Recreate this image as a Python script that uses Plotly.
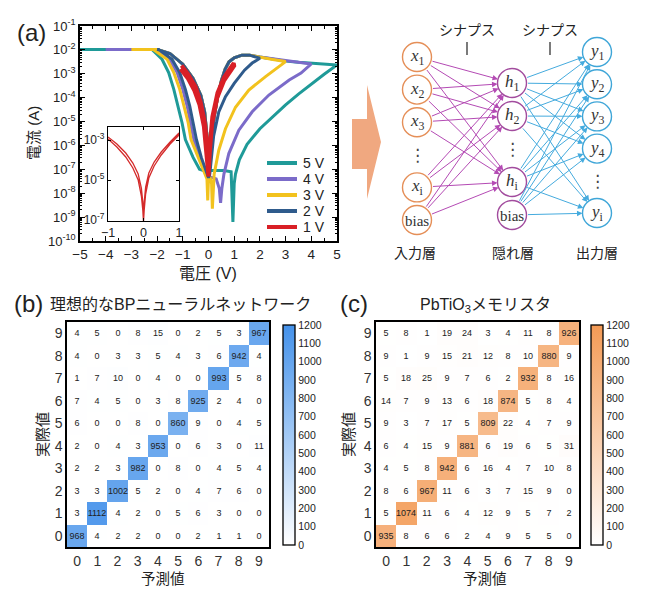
import plotly.graph_objects as go

W, H = 650, 592
def X(px): return px / W
def Y(py): return 1 - py / H

SANS = "Liberation Sans, Arial, Noto Sans CJK JP, sans-serif"
CJK = "Liberation Sans, Noto Sans CJK JP, sans-serif"
SERIF = "Liberation Serif, Times New Roman, serif"
INK = "#222222"

# ---------------- (a) I-V sweeps: voltage (V), log10 current (A) ----------------
sweep_names = ["5 V", "4 V", "3 V", "2 V", "1 V"]
sweep_colors = ["#1F9A98", "#7B6BC9", "#F2C21D", "#2F5B8C", "#D91F26"]
sweep_vmax = [5, 4, 3, 2, 1]

v5_low = [-5, -2.2, -1.81, -1.55, -1.35, -1.18, -1.03, -0.9, -0.6, -0.35, -0.2, 0.2, 0.6, 0.88, 0.95, 1.0,
          1.05, 1.2, 1.5, 2.0, 2.5, 3.0, 3.5, 4.0, 4.5, 5.0]
log5_low = [-1.98, -1.98, -2.39, -2.95, -3.65, -4.35, -5.05, -5.75, -6.5, -7.0, -7.05, -7.05, -7.05, -7.1, -9.2, -7.6,
            -7.2, -6.6, -5.95, -5.3, -4.8, -4.3, -3.85, -3.42, -3.02, -2.63]

v4_low = [-4, -2.1, -1.51, -1.22, -1.0, -0.83, -0.70, -0.57, -0.35, -0.15, 0.0, 0.3, 0.42, 0.47, 0.52, 0.6,
          0.79, 1.18, 1.7, 2.35, 3.14, 3.6, 4.0]
log4_low = [-1.98, -1.98, -2.39, -2.95, -3.65, -4.35, -5.05, -5.75, -6.5, -7.1, -7.3, -7.4, -7.8, -8.4, -7.8, -7.2,
            -6.34, -5.36, -4.59, -3.89, -3.26, -2.97, -2.59]

v3_low = [-3, -2.15, -1.61, -1.35, -1.12, -0.94, -0.79, -0.68, -0.4, -0.15, -0.06, -0.03, 0.0, 0.05, 0.12, 0.15,
          0.18, 0.22, 0.4, 0.66, 1.05, 1.57, 2.22, 3.0]
log3_low = [-1.98, -1.98, -2.39, -2.95, -3.65, -4.35, -5.05, -5.75, -6.5, -7.1, -7.4, -8.3, -7.4, -7.3, -7.6, -8.65,
            -7.6, -7.2, -6.2, -5.3, -4.4, -3.68, -3.12, -2.49]

v2_low = [-2.0, -1.94, -1.42, -1.12, -0.90, -0.73, -0.60, -0.47, -0.28, -0.1, 0.0, 0.05, 0.2, 0.4, 0.66, 1.0,
          1.4, 1.7, 2.0]
log2_low = [-1.98, -1.98, -2.39, -2.95, -3.65, -4.35, -5.05, -5.75, -6.5, -7.1, -7.35, -7.2, -5.6, -4.6, -3.96, -3.4,
            -2.85, -2.55, -2.35]

# shared return branch (Vmax -> 0)
high_v = [5.0, 4.5, 4.0, 3.5, 3.0, 2.5, 2.0, 1.6, 1.3, 1.0, 0.8, 0.65, 0.5, 0.35, 0.22, 0.12, 0.05, 0.02, 0.0]
high_log = [-2.63, -2.6, -2.56, -2.52, -2.47, -2.4, -2.3, -2.22, -2.22, -2.33, -2.5, -2.8, -3.3, -4.0, -4.8, -5.6,
            -6.5, -7.2, -7.35]
# negative-side return branch (0 -> -2 V)
inner_v = [0.0, -0.06, -0.15, -0.3, -0.6, -1.0, -1.5, -2.0]
inner_log = [-7.35, -5.6, -4.6, -3.9, -3.2, -2.6, -2.15, -1.98]

v1_loop = [-1.09, -0.8, -0.55, -0.35, -0.18, -0.08, 0.0, 0.05, 0.14, 0.34, 0.6, 1.0,
           0.98, 0.6, 0.35, 0.15, 0.05, 0.0, -0.05, -0.15, -0.3, -0.5, -0.8, -1.05]
log1_loop = [-2.8, -3.2, -3.7, -4.3, -5.2, -6.2, -7.3, -6.3, -5.1, -4.0, -3.3, -2.67,
             -2.55, -3.15, -3.8, -4.8, -6.0, -7.3, -6.0, -5.0, -4.2, -3.55, -3.0, -2.65]

inset_v = [-1, -0.75, -0.5, -0.3, -0.15, -0.06, -0.02, 0, 0.02, 0.06, 0.15, 0.3, 0.5, 0.75, 1,
           1, 0.75, 0.5, 0.3, 0.15, 0.06, 0.02, 0, -0.02, -0.06, -0.15, -0.3, -0.5, -0.75, -1]
inset_log = [-2.95, -3.35, -3.85, -4.4, -5.0, -5.8, -6.5, -7.1, -6.5, -5.7, -4.9, -4.3, -3.75, -3.2, -2.75,
             -2.65, -3.1, -3.6, -4.1, -4.65, -5.35, -6.1, -7.1, -6.1, -5.4, -4.7, -4.15, -3.65, -3.2, -2.85]

main_decades = list(range(-10, 0))
inset_decades = [-7, -5, -3]
x_ticks_a = list(range(-5, 6))

# ---------------- (b), (c) confusion matrices (rows: actual 0..9, cols: predicted 0..9) ----------------
digits = list(range(10))
cm_ideal = [
    [968, 4, 2, 2, 0, 0, 2, 1, 1, 0],
    [3, 1112, 4, 2, 0, 5, 6, 3, 0, 0],
    [3, 3, 1002, 5, 2, 0, 4, 7, 6, 0],
    [2, 2, 3, 982, 0, 8, 0, 4, 5, 4],
    [2, 0, 4, 3, 953, 0, 6, 3, 0, 11],
    [6, 0, 0, 8, 0, 860, 9, 0, 4, 5],
    [7, 4, 5, 0, 3, 8, 925, 2, 4, 0],
    [1, 7, 10, 0, 4, 0, 0, 993, 5, 8],
    [4, 0, 3, 3, 5, 4, 3, 6, 942, 4],
    [4, 5, 0, 8, 15, 0, 2, 5, 3, 967],
]
cm_memristor = [
    [935, 8, 6, 6, 2, 4, 9, 5, 5, 0],
    [5, 1074, 11, 6, 4, 12, 9, 5, 7, 2],
    [8, 6, 967, 11, 6, 3, 7, 15, 9, 0],
    [4, 5, 8, 942, 6, 16, 4, 7, 10, 8],
    [6, 4, 15, 9, 881, 6, 19, 6, 5, 31],
    [9, 3, 7, 17, 5, 809, 22, 4, 7, 9],
    [14, 7, 9, 13, 6, 18, 874, 5, 8, 4],
    [5, 18, 25, 9, 7, 6, 2, 932, 8, 16],
    [9, 1, 9, 15, 21, 12, 8, 10, 880, 9],
    [5, 8, 1, 19, 24, 3, 4, 11, 8, 926],
]
cbar_ticks = list(range(0, 1201, 100))

# ---------------- neural network diagram labels ----------------
input_nodes = ["x1", "x2", "x3", "⋮", "xi", "bias"]
hidden_nodes = ["h1", "h2", "⋮", "hi", "bias"]
output_nodes = ["y1", "y2", "y3", "y4", "⋮", "yi"]

# =====================================================================
fig = go.Figure()

lows = [(v5_low, log5_low), (v4_low, log4_low), (v3_low, log3_low), (v2_low, log2_low)]
for i, name in enumerate(sweep_names):
    vmax = sweep_vmax[i]
    if i < 4:
        lv, ll = lows[i]
        hv = [v for v in high_v if v < vmax]
        hl = [l for v, l in zip(high_v, high_log) if v < vmax]
        vv = lv + hv + inner_v[1:] + [-vmax]
        ll2 = ll + hl + inner_log[1:] + [-1.98]
        width = 3
    else:
        vv, ll2 = v1_loop, log1_loop
        width = 4
    fig.add_trace(go.Scatter(x=vv, y=[10 ** e for e in ll2], mode="lines", name=name, showlegend=False,
                             line=dict(color=sweep_colors[i], width=width), xaxis="x", yaxis="y"))

fig.add_trace(go.Scatter(x=inset_v, y=[10 ** e for e in inset_log], mode="lines", showlegend=False,
                         line=dict(color="#D42A2A", width=1.3), xaxis="x2", yaxis="y2"))

blue_scale = [[0, "#FFFFFF"], [1, "#4592EA"]]
orange_scale = [[0, "#FFFFFF"], [1, "#F39A55"]]

def cbar(px_left):
    return dict(x=X(px_left), xanchor="left", y=Y(435), yanchor="middle", len=220 / H, lenmode="fraction",
                thickness=12, outlinewidth=1.3, outlinecolor="black", xpad=0, ypad=0,
                tickvals=cbar_ticks, ticks="", tickfont=dict(size=10.5, family=SANS, color=INK))

fig.add_trace(go.Heatmap(z=cm_ideal, x=digits, y=digits, xaxis="x3", yaxis="y3", zmin=0, zmax=1200,
                         colorscale=blue_scale, texttemplate="%{z}", textfont=dict(size=9, family=SANS, color=INK),
                         colorbar=cbar(283), hoverinfo="skip"))
fig.add_trace(go.Heatmap(z=cm_memristor, x=digits, y=digits, xaxis="x4", yaxis="y4", zmin=0, zmax=1200,
                         colorscale=orange_scale, texttemplate="%{z}", textfont=dict(size=9, family=SANS, color=INK),
                         colorbar=cbar(591), hoverinfo="skip"))

frame = dict(showline=True, linecolor="black", linewidth=1.5, mirror=True, showgrid=False, zeroline=False,
             automargin=False)
hm_font = dict(size=14, color="#333")

fig.update_layout(
    width=W, height=H, autosize=False, margin=dict(l=0, r=0, t=0, b=0, pad=0, autoexpand=False),
    paper_bgcolor="white", plot_bgcolor="rgba(0,0,0,0)", showlegend=False,
    font=dict(family=SANS, color=INK),
    xaxis=dict(domain=[X(80), X(337)], anchor="y", range=[-5, 5], tickvals=x_ticks_a, ticks="inside",
               ticklen=5, tickwidth=1.2, tickcolor="black",
               minor=dict(ticks="inside", ticklen=3, dtick=0.5, tickcolor="black"),
               tickfont=dict(size=13.5, color=INK), **{**frame, "mirror": "allticks"}),
    yaxis=dict(domain=[Y(241), Y(26)], anchor="x", type="log", range=[-10, -1],
               tickvals=[10 ** e for e in main_decades], ticktext=[f"10<sup>{e}</sup>" for e in main_decades],
               ticks="inside", ticklen=5, tickwidth=1.2, tickcolor="black",
               minor=dict(ticks="inside", ticklen=2.5, tickcolor="black",
                          tickvals=[k * 10 ** e for e in range(-10, -1) for k in range(2, 10)]),
               tickfont=dict(size=13, color=INK), **{**frame, "mirror": "allticks"}),
    xaxis2=dict(domain=[X(108), X(179)], anchor="y2", range=[-1, 1], tickvals=[-1, 0, 1], ticks="inside",
                ticklen=3, tickcolor="black", tickfont=dict(size=12.5, color=INK),
                **{**frame, "mirror": "allticks", "linewidth": 1.2}),
    yaxis2=dict(domain=[Y(221), Y(127)], anchor="x2", type="log", range=[-7.05, -2.35],
                tickvals=[10 ** e for e in inset_decades], ticktext=[f"10<sup>{e}</sup>" for e in inset_decades],
                ticks="inside", ticklen=3, tickcolor="black", tickfont=dict(size=12, color=INK),
                **{**frame, "mirror": "allticks", "linewidth": 1.2}),
    xaxis3=dict(domain=[X(67), X(269)], anchor="y3", range=[-0.5, 9.5], tickvals=digits, ticks="",
                tickfont=hm_font, **frame),
    yaxis3=dict(domain=[Y(547), Y(322)], anchor="x3", range=[-0.5, 9.5], tickvals=digits, ticks="",
                tickfont=hm_font, **frame),
    xaxis4=dict(domain=[X(376), X(579)], anchor="y4", range=[-0.5, 9.5], tickvals=digits, ticks="",
                tickfont=hm_font, **frame),
    yaxis4=dict(domain=[Y(547), Y(322)], anchor="x4", range=[-0.5, 9.5], tickvals=digits, ticks="",
                tickfont=hm_font, **frame),
)

ann = []
def text(px, py, s, size, family=CJK, angle=0, xanchor="center", color=INK):
    ann.append(dict(x=X(px), y=Y(py), xref="paper", yref="paper", text=s, showarrow=False,
                    font=dict(size=size, family=family, color=color), textangle=angle,
                    xanchor=xanchor, yanchor="middle"))

shapes = []

# legend of (a), drawn from the sweep names and colours
for k, (name, col) in enumerate(zip(sweep_names, sweep_colors)):
    ly = 163 + 16 * k
    shapes.append(dict(type="line", xref="paper", yref="paper", x0=X(267), x1=X(297), y0=Y(ly), y1=Y(ly),
                       line=dict(color=col, width=4)))
    text(301, ly, name, 14, SANS, xanchor="left")

# panel (a) texts
text(31, 32, "(a)", 24, SANS)
text(33, 133, "電流 (A)", 15, angle=-90)
text(208, 273, "電圧 (V)", 16)
# panel (b)
text(29, 303, "(b)", 24, SANS)
text(48, 304, "理想的なBPニューラルネットワーク", 16, xanchor="left")
text(163, 579, "予測値", 14.5)
text(42, 435, "実際値", 15, angle=-90)
# panel (c)
text(354, 303, "(c)", 24, SANS)
text(485, 305, "PbTiO<sub>3</sub>メモリスタ", 16)
text(485, 579, "予測値", 14.5)
text(348, 435, "実際値", 15, angle=-90)

# big arrow between (a) and the network
arrow_pts = [(352, 119), (367, 119), (367, 85), (381, 142), (367, 199), (367, 169), (352, 169)]
path = "M " + " L ".join(f"{X(a):.5f},{Y(b):.5f}" for a, b in arrow_pts) + " Z"
shapes.append(dict(type="path", path=path, xref="paper", yref="paper", fillcolor="#F0A880", line=dict(width=0)))

# network layout
R = 14.5
layers = [
    (input_nodes, 417, 57, 32.6, "#E58F58"),
    (hidden_nodes, 512, 83, 33.0, "#A24C9E"),
    (output_nodes, 597, 52, 32.2, "#3FA6D8"),
]
pos = []
for nodes, cx, y0, step, col in layers:
    lp = []
    for k, lab in enumerate(nodes):
        cy = y0 + k * step
        lp.append((lab, cx, cy))
        if lab == "⋮":
            text(cx, cy, "⋮", 17, "DejaVu Sans", color="#444")
            continue
        shapes.append(dict(type="circle", xref="paper", yref="paper", x0=X(cx - R), x1=X(cx + R),
                           y0=Y(cy + R), y1=Y(cy - R), line=dict(color=col, width=1.4), fillcolor="rgba(0,0,0,0)"))
        if lab == "bias":
            text(cx, cy + 1, "bias", 15, SERIF, color="#333")
        else:
            text(cx, cy, f"<i>{lab[0]}</i><sub>{lab[1:]}</sub>", 17, SERIF, color="#333")
    pos.append(lp)

def connect(src, dst, color):
    for (ls, xs, ys) in src:
        for (ld, xd, yd) in dst:
            ann.append(dict(x=X(xd), y=Y(yd), xref="paper", yref="paper", text="", showarrow=True,
                            ax=xs - xd, ay=ys - yd, axref="pixel", ayref="pixel",
                            arrowhead=2, arrowsize=1.1, arrowwidth=1, arrowcolor=color,
                            standoff=R, startstandoff=R))

src_in = [p for p in pos[0] if p[0] != "⋮"]
dst_hid = [p for p in pos[1] if p[0] not in ("⋮", "bias")]
src_hid = [p for p in pos[1] if p[0] != "⋮"]
dst_out = [p for p in pos[2] if p[0] != "⋮"]
connect(src_in, dst_hid, "#B44AB4")
connect(src_hid, dst_out, "#45ABDE")

text(467, 30, "シナプス", 14)
text(550, 30, "シナプス", 14)
for sx in (467, 550):
    shapes.append(dict(type="line", xref="paper", yref="paper", x0=X(sx), x1=X(sx), y0=Y(42), y1=Y(55),
                       line=dict(color="#333", width=1.3)))
text(415, 253, "入力層", 14)
text(513, 253, "隠れ層", 14)
text(597, 253, "出力層", 14)

fig.update_layout(annotations=ann, shapes=shapes)
fig.write_html("out.html", config={"displayModeBar": False},
               post_script="document.body.style.margin='0';document.body.style.padding='0';")
